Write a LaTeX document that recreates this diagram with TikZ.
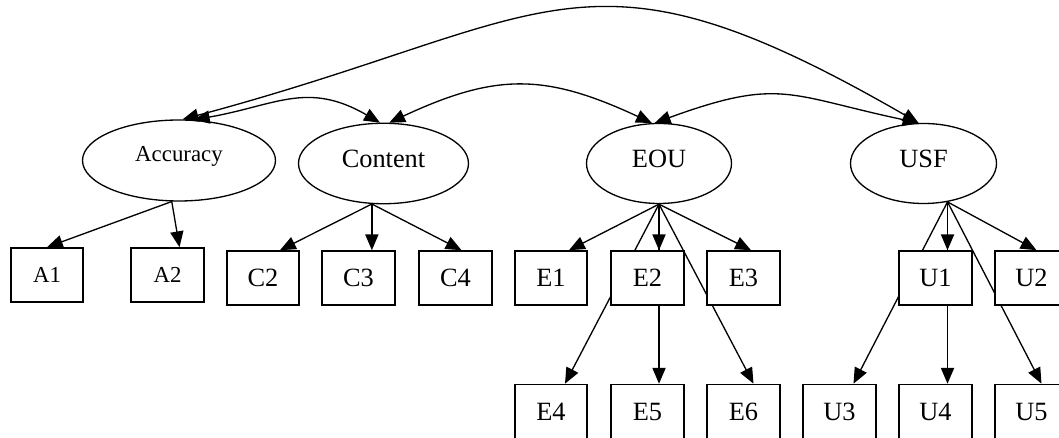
\documentclass[tikz,border=0pt]{standalone}
\usepackage{fontspec}
\setmainfont{Liberation Serif}
\usetikzlibrary{shapes.geometric,arrows.meta,backgrounds}

\begin{document}
\begin{tikzpicture}[
    >={Triangle[length=9pt,width=7.5pt]},
    construct/.style={draw, ellipse, line width=0.75pt, inner sep=0pt, text height=0.7em, text depth=0.22em, font=\fontsize{15}{18}\selectfont},
    indicator/.style={draw, rectangle, line width=0.9pt, fill=white, inner sep=0pt, minimum width=1.45cm, minimum height=1.08cm, text height=10pt, text depth=0pt, font=\fontsize{15}{18}\selectfont},
    accfont/.style={font=\fontsize{13}{16}\selectfont},
    link/.style={line width=0.75pt}
]

\useasboundingbox (0,0) rectangle (21.18,-8.76);


    \node [construct, accfont, minimum width=3.86cm, minimum height=1.62cm, text depth=0.55em] at (3.58,-3.21) (Acc) {Accuracy};
    \node [construct, minimum width=3.4cm, minimum height=1.61cm] at (7.67,-3.27) (Content) {Content};
    \node [construct, minimum width=2.9cm, minimum height=1.6cm] at (13.18,-3.27) (EOU) {EOU};
    \node [construct, minimum width=2.92cm, minimum height=1.6cm] at (18.47,-3.27) (USF) {USF};

    \node [indicator, accfont, text height=8.6pt] at (0.94,-5.5) (A1) {A1};
    \node [indicator, accfont, text height=8.6pt] at (3.35,-5.5) (A2) {A2};
    \node [indicator] at (5.26,-5.56) (C2) {C2};
    \node [indicator] at (7.17,-5.56) (C3) {C3};
    \node [indicator] at (9.11,-5.56) (C4) {C4};
    \node [indicator] at (11.02,-5.56) (E1) {E1};
    \node [indicator] at (12.95,-5.56) (E2) {E2};
    \node [indicator] at (14.87,-5.56) (E3) {E3};
    \node [indicator] at (18.71,-5.56) (U1) {U1};
    \node [indicator] at (20.63,-5.56) (U2) {U2};

    \node [indicator] at (11.02,-8.23) (E4) {E4};
    \node [indicator] at (12.95,-8.23) (E5) {E5};
    \node [indicator] at (14.87,-8.23) (E6) {E6};
    \node [indicator] at (16.79,-8.23) (U3) {U3};
    \node [indicator] at (18.71,-8.23) (U4) {U4};
    \node [indicator] at (20.63,-8.23) (U5) {U5};


\begin{scope}[on background layer]
    % loadings
    \path [->,draw,link] (Acc.260) -- (A1.north);
    \path [->,draw,link] (Acc.260) -- ([xshift=0.24cm]A2.north);

    \path [->,draw,link] (Content.254) -- ([xshift=0.34cm]C2.north);
    \path [->,draw,link] (Content.254) -- (C3.north -| Content.254);
    \path [->,draw,link] (Content.254) -- ([xshift=0.12cm]C4.north);

    \path [->,draw,link] (EOU.south) -- ([xshift=0.36cm]E1.north);
    \path [->,draw,link] (EOU.south) -- (E2.north -| EOU.south);
    \path [->,draw,link] (EOU.south) -- ([xshift=0.15cm]E3.north);
    \path [->,draw,link] (EOU.south) -- ([xshift=0.28cm]E4.north);
    \path [->,draw,link] (EOU.south) -- (E5.north -| EOU.south);
    \path [->,draw,link] (EOU.south) -- ([xshift=0.2cm]E6.north);

    \path [->,draw,link] (USF.302) -- (U1.north -| USF.302);
    \path [->,draw,link] (USF.302) -- ([xshift=0.1cm]U2.north);
    \path [->,draw,link] (USF.302) -- ([xshift=0.28cm]U3.north);
    \path [->,draw,link] (USF.302) -- (U4.north -| USF.302);
    \path [->,draw,link] (USF.302) -- ([xshift=0.2cm]U5.north);
\end{scope}

    % covariances
    \path [<->,draw,link] (Acc.85) to[out=15,in=150,looseness=1.35] (USF.97);
    \path [<->,draw,link] (Acc.70) to[out=10,in=150,looseness=1.15] (Content.95);
    \path [<->,draw,link] (Content.82) to[out=25,in=155,looseness=1.15] (EOU.100);
    \path [<->,draw,link] (EOU.96) to[out=20,in=168,looseness=1.3] (USF.97);

\end{tikzpicture}
\end{document}
